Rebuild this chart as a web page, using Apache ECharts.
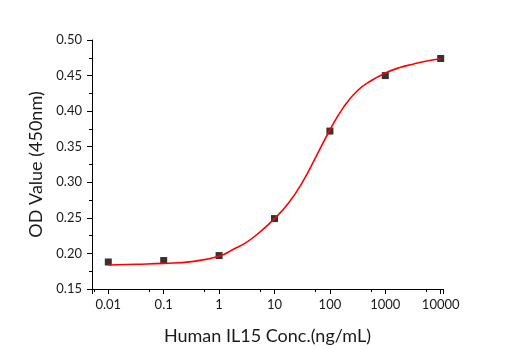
<!DOCTYPE html>
<html>
<head>
<meta charset="utf-8">
<script src="https://cdn.jsdelivr.net/npm/echarts@6/dist/echarts.min.js"></script>
<style>
  html, body { margin: 0; padding: 0; background: #fff; }
  #chart { width: 515px; height: 350px; }
</style>
</head>
<body>
<div id="chart"></div>
<script>
// measured points
var concX = [0.01, 0.1, 1, 10, 100, 1000, 10000];
var odY = [0.188, 0.190, 0.197, 0.249, 0.372, 0.450, 0.474];

// fitted curve, every quarter decade
var fitX = [0.01, 0.0316, 0.1, 0.316, 1, 1.78, 3.16, 5.62, 10, 17.8, 31.6, 56.2, 100, 178, 316, 562, 1000, 1778, 3162, 5623, 10000];
var fitY = [0.1837, 0.1848, 0.186, 0.1885, 0.196, 0.2055, 0.216, 0.231, 0.249, 0.2706, 0.2995, 0.336, 0.3735, 0.406, 0.429, 0.443, 0.4535, 0.461, 0.466, 0.4705, 0.4737];

var xTickLabels = ['0.01', '0.1', '1', '10', '100', '1000', '10000'];

var textColor = '#1a1a1a';
var fontName = 'Lato';

var chart = echarts.init(document.getElementById('chart'));

var option = {
  backgroundColor: '#fff',
  animation: false,
  grid: { left: 92, right: 72, top: 40, bottom: 58.5, containLabel: false },
  xAxis: {
    type: 'log',
    logBase: 10,
    min: 0.00508,
    max: 11000,
    name: 'Human IL15 Conc.(ng/mL)',
    nameLocation: 'middle',
    nameGap: 38,
    nameTextStyle: { fontSize: 18, color: textColor, fontFamily: fontName },
    axisLine: { lineStyle: { color: '#000', width: 1 } },
    axisTick: { show: true, length: 5, inside: false, lineStyle: { color: '#000' } },
    minorTick: { show: true, splitNumber: 2, length: 3, lineStyle: { color: '#000' } },
    splitLine: { show: false },
    axisLabel: {
      fontSize: 13, color: textColor, fontFamily: fontName, margin: 9,
      formatter: function (v) {
        var l = Math.round(Math.log10(v));
        if (Math.abs(Math.log10(v) - l) > 0.01) return '';
        var s = xTickLabels[l + 2];
        return s === undefined ? '' : s;
      }
    }
  },
  yAxis: {
    type: 'value',
    min: 0.15,
    max: 0.50,
    interval: 0.05,
    name: 'OD Value (450nm)',
    nameLocation: 'middle',
    nameGap: 45,
    nameTextStyle: { fontSize: 18, color: textColor, fontFamily: fontName },
    axisLine: { show: true, lineStyle: { color: '#000', width: 1 } },
    axisTick: { show: true, length: 5, inside: false, lineStyle: { color: '#000' } },
    minorTick: { show: true, splitNumber: 2, length: 3, lineStyle: { color: '#000' } },
    splitLine: { show: false },
    axisLabel: {
      fontSize: 13, color: textColor, fontFamily: fontName, margin: 10,
      formatter: function (v) { return v.toFixed(2); }
    }
  },
  series: [
    {
      name: 'OD',
      type: 'scatter',
      symbol: 'rect',
      symbolSize: 7,
      itemStyle: { color: '#000' },
      data: concX.map(function (x, i) { return [x, odY[i]]; }),
      z: 2
    },
    {
      name: 'Fit',
      type: 'line',
      smooth: 0.5,
      showSymbol: false,
      symbol: 'none',
      lineStyle: { color: '#ff0000', width: 1.6 },
      data: fitX.map(function (x, i) { return [x, fitY[i]]; }),
      z: 3
    }
  ]
};

chart.setOption(option);
</script>
</body>
</html>
